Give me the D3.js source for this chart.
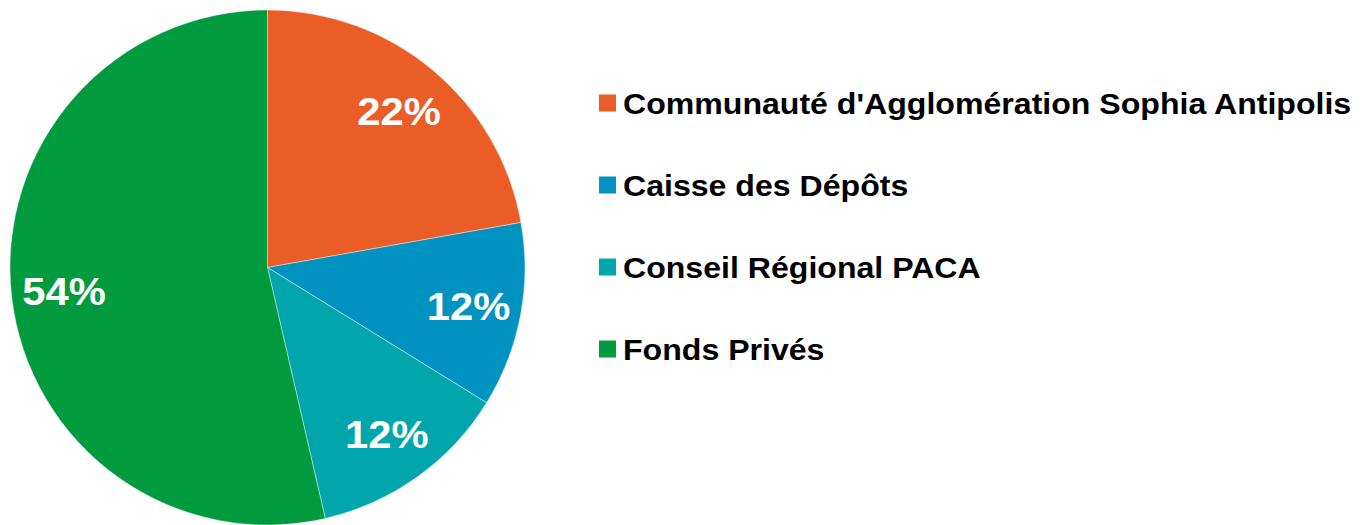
<!DOCTYPE html>
<html><head><meta charset="utf-8">
<script src="https://cdn.jsdelivr.net/npm/d3@7"></script>
<style>html,body{margin:0;padding:0;background:#fff;}svg{display:block;}</style>
</head><body>
<svg id="c" width="1363" height="525"></svg>
<script>
const categories = ["Communauté d'Agglomération Sophia Antipolis", "Caisse des Dépôts", "Conseil Régional PACA", "Fonds Privés"];
const values = [22.2, 11.6, 12.6, 53.6];
const labels = ["22%", "12%", "12%", "54%"];
const colors = ["#EB5D27", "#0092C0", "#00A6AC", "#009B3E"];

const svg = d3.select("#c");
const cx = 267.5, cy = 267.5, r = 257.5;
const sx = 1.07;
const pie = d3.pie().sort(null).value(d => d.v);
const data = pie(categories.map((c, i) => ({c, v: values[i], l: labels[i], col: colors[i]})));
const arc = d3.arc().innerRadius(0).outerRadius(r);
const labelArc = d3.arc().innerRadius(r * 0.795).outerRadius(r * 0.795);

const g = svg.append("g").attr("transform", `translate(${cx},${cy})`);
g.selectAll("path").data(data).join("path")
  .attr("d", arc).attr("fill", d => d.data.col)
  .attr("stroke", "#fff").attr("stroke-width", 0.4);
g.selectAll("text").data(data).join("text")
  .attr("transform", d => `translate(${labelArc.centroid(d)}) scale(${sx},1)`)
  .attr("text-anchor", "middle").attr("dy", "0.36em")
  .attr("font-family", "'Liberation Sans', Arial, sans-serif")
  .attr("font-weight", "bold").attr("font-size", 39).attr("fill", "#fff")
  .text(d => d.data.l);

const y = d3.scaleBand().domain(categories).range([62, 390]);
const lg = svg.append("g");
const items = lg.selectAll("g").data(categories).join("g")
  .attr("transform", d => `translate(599,${y(d) + y.bandwidth() / 2})`);
items.append("rect").attr("x", 0).attr("y", -8.5).attr("width", 17).attr("height", 17)
  .attr("fill", (d, i) => colors[i]);
items.append("text").attr("transform", `translate(24,0) scale(${sx},1)`).attr("dy", "0.36em")
  .attr("font-family", "'Liberation Sans', Arial, sans-serif")
  .attr("font-weight", "bold").attr("font-size", 30).attr("fill", "#000")
  .text(d => d);
</script>
</body></html>
